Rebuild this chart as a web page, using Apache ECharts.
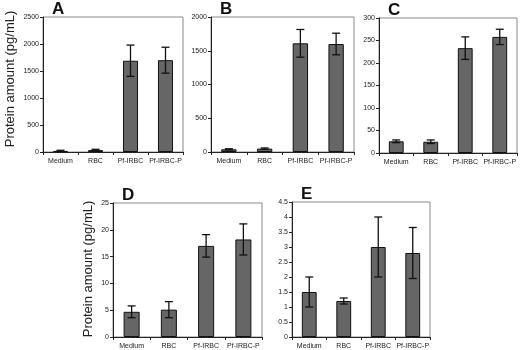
<!DOCTYPE html>
<html><head><meta charset="utf-8">
<script src="https://cdn.jsdelivr.net/npm/echarts@6/dist/echarts.min.js"></script>
<style>html,body{margin:0;padding:0;background:#fff}#c{width:520px;height:350px}</style>
</head><body><div id="c"></div>
<script>
var categories = ['Medium', 'RBC', 'Pf-IRBC', 'Pf-IRBC-P'];
var panelLabels = ['A', 'B', 'C', 'D', 'E'];
var aValues = [20, 35, 1690, 1700];
var aErrors = [12, 15, 290, 240];
var bValues = [40, 50, 1610, 1600];
var bErrors = [8, 10, 205, 160];
var cValues = [26, 25, 233, 258];
var cErrors = [3, 4, 25, 17];
var dValues = [4.7, 5.1, 17.0, 18.2];
var dErrors = [1.1, 1.5, 2.1, 2.9];
var eValues = [1.5, 1.2, 3.0, 2.8];
var eErrors = [0.5, 0.1, 1.0, 0.85];
var yMax = [2500, 2000, 300, 25, 4.5];
var yStep = [500, 500, 50, 5, 0.5];
var yTitle = 'Protein amount (pg/mL)';

var values = [aValues, bValues, cValues, dValues, eValues];
var errors = [aErrors, bErrors, cErrors, dErrors, eErrors];
var grids = [
  {left: 43, top: 17, width: 140, height: 135},
  {left: 211, top: 17, width: 143, height: 135},
  {left: 379, top: 18, width: 138, height: 135},
  {left: 113, top: 203, width: 149, height: 134},
  {left: 292, top: 202, width: 138, height: 136}
];
var font = 'Liberation Sans, Arial, sans-serif';
var option = {animation: false, grid: [], xAxis: [], yAxis: [], series: [], graphic: []};
grids.forEach(function (g, i) {
  option.grid.push({left: g.left, top: g.top, width: g.width, height: g.height, show: true,
    borderColor: '#8a8a8a', borderWidth: 1, backgroundColor: 'transparent'});
  option.xAxis.push({type: 'category', gridIndex: i, data: categories,
    axisLine: {lineStyle: {color: '#222', width: 1}},
    axisTick: {show: true, alignWithLabel: false, length: 3, lineStyle: {color: '#222'}},
    axisLabel: {fontSize: 7, color: '#222', fontFamily: font, margin: 6, interval: 0}});
  option.yAxis.push({type: 'value', gridIndex: i, min: 0, max: yMax[i], interval: yStep[i],
    splitLine: {show: false},
    axisLine: {show: true, lineStyle: {color: '#222', width: 1}},
    axisTick: {show: true, length: 3, lineStyle: {color: '#222'}},
    axisLabel: {fontSize: 7, color: '#222', fontFamily: font, margin: 4,
      formatter: function (v) { return String(v); }}});
  option.series.push({type: 'bar', xAxisIndex: i, yAxisIndex: i, data: values[i], barWidth: '43%',
    itemStyle: {color: '#666666', borderColor: '#111', borderWidth: 1}});
  var ed = values[i].map(function (v, k) { return [k, v - errors[i][k], v + errors[i][k]]; });
  option.series.push({type: 'custom', xAxisIndex: i, yAxisIndex: i, data: ed, z: 5,
    renderItem: function (params, api) {
      var lo = api.coord([api.value(0), api.value(1)]);
      var hi = api.coord([api.value(0), api.value(2)]);
      var w = 4;
      var st = {stroke: '#111', lineWidth: 1.3};
      return {type: 'group', children: [
        {type: 'line', shape: {x1: hi[0], y1: hi[1], x2: lo[0], y2: lo[1]}, style: st},
        {type: 'line', shape: {x1: hi[0] - w, y1: hi[1], x2: hi[0] + w, y2: hi[1]}, style: st},
        {type: 'line', shape: {x1: lo[0] - w, y1: lo[1], x2: lo[0] + w, y2: lo[1]}, style: st}
      ]};
    }});
  option.graphic.push({type: 'text', left: g.left + 9, top: g.top - 16,
    style: {text: panelLabels[i], font: 'bold 17px ' + font, fill: '#111'}});
});
[[10, 79], [88, 269]].forEach(function (p) {
  option.graphic.push({type: 'text', x: p[0], y: p[1], rotation: Math.PI / 2,
    style: {text: yTitle, font: '13px ' + font, fill: '#222', align: 'center', verticalAlign: 'middle'}});
});
var chart = echarts.init(document.getElementById('c'), null, {renderer: 'canvas'});
chart.setOption(option);
</script></body></html>
